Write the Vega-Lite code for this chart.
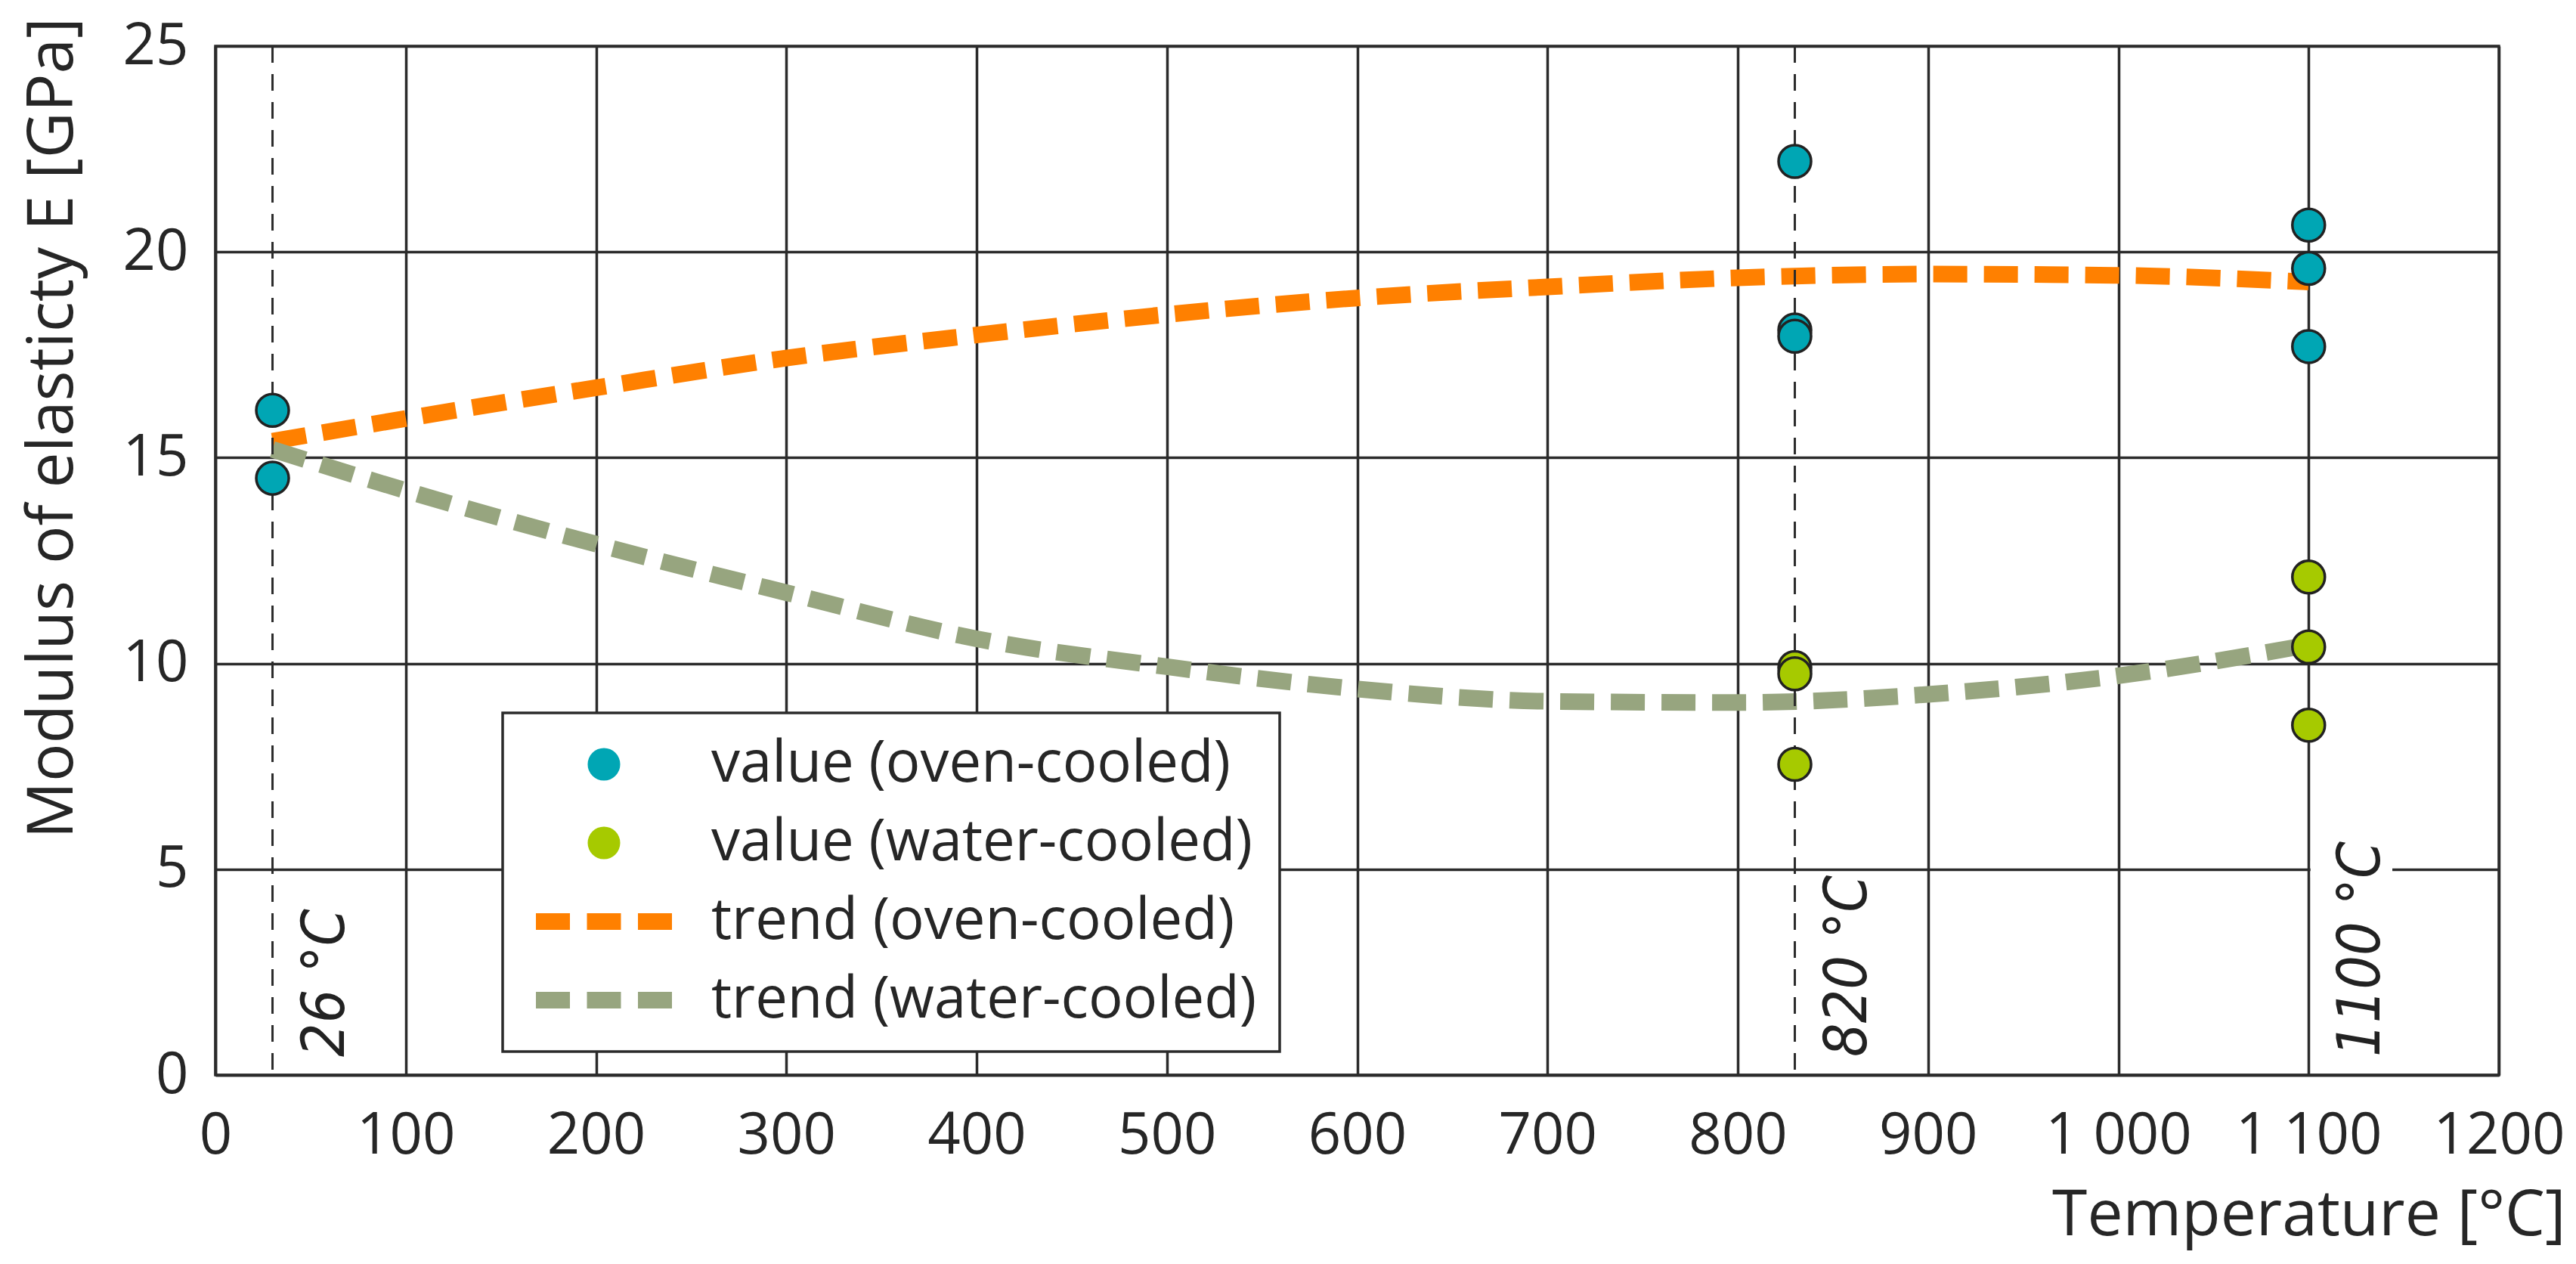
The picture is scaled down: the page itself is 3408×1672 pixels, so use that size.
{
  "$schema": "https://vega.github.io/schema/vega-lite/v6.json",
  "width": 3021,
  "height": 1361,
  "autosize": {"type": "none"},
  "padding": {"left": 285, "top": 61, "right": 102, "bottom": 250},
  "background": "#ffffff",
  "datasets": {
    "points": [
      {"T": 30, "E": 16.15, "series": "value (oven-cooled)"},
      {"T": 30, "E": 14.5, "series": "value (oven-cooled)"},
      {"T": 830, "E": 22.2, "series": "value (oven-cooled)"},
      {"T": 830, "E": 18.1, "series": "value (oven-cooled)"},
      {"T": 830, "E": 17.95, "series": "value (oven-cooled)"},
      {"T": 1100, "E": 20.65, "series": "value (oven-cooled)"},
      {"T": 1100, "E": 19.6, "series": "value (oven-cooled)"},
      {"T": 1100, "E": 17.7, "series": "value (oven-cooled)"},
      {"T": 830, "E": 9.9, "series": "value (water-cooled)"},
      {"T": 830, "E": 9.75, "series": "value (water-cooled)"},
      {"T": 830, "E": 7.55, "series": "value (water-cooled)"},
      {"T": 1100, "E": 12.1, "series": "value (water-cooled)"},
      {"T": 1100, "E": 10.4, "series": "value (water-cooled)"},
      {"T": 1100, "E": 8.5, "series": "value (water-cooled)"}
    ],
    "trend": [
      {"T": 30, "E": 15.4, "series": "trend (oven-cooled)"},
      {"T": 100, "E": 15.95, "series": "trend (oven-cooled)"},
      {"T": 200, "E": 16.7, "series": "trend (oven-cooled)"},
      {"T": 300, "E": 17.42, "series": "trend (oven-cooled)"},
      {"T": 400, "E": 17.98, "series": "trend (oven-cooled)"},
      {"T": 500, "E": 18.48, "series": "trend (oven-cooled)"},
      {"T": 600, "E": 18.88, "series": "trend (oven-cooled)"},
      {"T": 700, "E": 19.15, "series": "trend (oven-cooled)"},
      {"T": 800, "E": 19.37, "series": "trend (oven-cooled)"},
      {"T": 900, "E": 19.46, "series": "trend (oven-cooled)"},
      {"T": 1000, "E": 19.43, "series": "trend (oven-cooled)"},
      {"T": 1100, "E": 19.27, "series": "trend (oven-cooled)"},
      {"T": 30, "E": 15.2, "series": "trend (water-cooled)"},
      {"T": 100, "E": 14.2, "series": "trend (water-cooled)"},
      {"T": 200, "E": 12.9, "series": "trend (water-cooled)"},
      {"T": 300, "E": 11.72, "series": "trend (water-cooled)"},
      {"T": 400, "E": 10.6, "series": "trend (water-cooled)"},
      {"T": 500, "E": 9.92, "series": "trend (water-cooled)"},
      {"T": 600, "E": 9.38, "series": "trend (water-cooled)"},
      {"T": 700, "E": 9.08, "series": "trend (water-cooled)"},
      {"T": 800, "E": 9.05, "series": "trend (water-cooled)"},
      {"T": 900, "E": 9.25, "series": "trend (water-cooled)"},
      {"T": 1000, "E": 9.7, "series": "trend (water-cooled)"},
      {"T": 1100, "E": 10.45, "series": "trend (water-cooled)"}
    ],
    "markers": [
      {"T": 30, "label": "26 °C", "dashed": true},
      {"T": 830, "label": "820 °C", "dashed": true},
      {"T": 1100, "label": "1100 °C", "dashed": false}
    ]
  },
  "resolve": {"scale": {"stroke": "independent"}, "legend": {"stroke": "independent"}},
  "layer": [
    {
      "data": {"name": "trend"},
      "mark": {"type": "line", "strokeWidth": 22, "strokeDash": [45, 22], "interpolate": "monotone"},
      "encoding": {
        "x": {
          "field": "T",
          "type": "quantitative",
          "scale": {"domain": [0, 1200], "nice": false},
          "axis": {
            "title": "Temperature [°C]",
            "values": [0, 100, 200, 300, 400, 500, 600, 700, 800, 900, 1000, 1100, 1200],
            "format": "d",
            "labelExpr": "datum.value == 1000 ? '1 000' : datum.value == 1100 ? '1 100' : datum.label",
            "labelFlush": false,
            "labelOverlap": false,
            "labelLimit": 1000,
            "labelPadding": 103,
            "labelBaseline": "alphabetic",
            "titleX": 3109,
            "titleY": 211,
            "titleAlign": "right",
            "titleBaseline": "alphabetic"
          }
        },
        "y": {
          "field": "E",
          "type": "quantitative",
          "scale": {"domain": [0, 25], "nice": false},
          "axis": {
            "title": "Modulus of elasticty E [GPa]",
            "values": [0, 5, 10, 15, 20, 25],
            "format": "d",
            "labelPadding": 36,
            "titleX": -190,
            "titleY": 505,
            "titleAlign": "center",
            "titleBaseline": "alphabetic"
          }
        },
        "stroke": {
          "field": "series",
          "type": "nominal",
          "scale": {
            "domain": ["trend (oven-cooled)", "trend (water-cooled)"],
            "range": ["#ff8000", "#97a57f"]
          },
          "legend": null
        }
      }
    },
    {
      "data": {"name": "markers"},
      "transform": [{"filter": "datum.dashed"}],
      "mark": {"type": "rule", "color": "#2b2b2b", "strokeWidth": 3, "strokeDash": [22, 15]},
      "encoding": {
        "x": {"field": "T", "type": "quantitative"}
      }
    },
    {
      "data": {"values": [{}]},
      "mark": {"type": "rect", "fill": "#ffffff"},
      "encoding": {
        "x": {"datum": 1101, "type": "quantitative"},
        "x2": {"datum": 1144},
        "y": {"datum": 4.8, "type": "quantitative"},
        "y2": {"datum": 5.2}
      }
    },
    {
      "data": {"name": "markers"},
      "mark": {
        "type": "text",
        "angle": 270,
        "align": "left",
        "baseline": "alphabetic",
        "dx": 24,
        "dy": 94,
        "font": "DejaVu Sans Condensed, DejaVu Sans",
        "fontSize": 78,
        "fontStyle": "italic",
        "color": "#222222"
      },
      "encoding": {
        "x": {"field": "T", "type": "quantitative"},
        "y": {"datum": 0, "type": "quantitative"},
        "text": {"field": "label"}
      }
    },
    {
      "data": {"name": "points"},
      "mark": {"type": "point", "filled": true, "size": 1850, "strokeWidth": 3.5, "opacity": 1},
      "encoding": {
        "x": {"field": "T", "type": "quantitative"},
        "y": {"field": "E", "type": "quantitative"},
        "color": {
          "field": "series",
          "type": "nominal",
          "scale": {
            "domain": ["value (oven-cooled)", "value (water-cooled)", "trend (oven-cooled)", "trend (water-cooled)"],
            "range": ["#00a6b4", "#a6ca00", "#ff8000", "#97a57f"]
          },
          "legend": {
            "title": null,
            "orient": "none",
            "legendX": 380,
            "legendY": 882,
            "padding": 30,
            "rowPadding": 28,
            "symbolSize": 1850,
            "symbolStrokeWidth": 3.5,
            "symbolOffset": 66,
            "labelOffset": 104,
            "labelFont": "Open Sans",
            "labelFontSize": 76,
            "labelColor": "#262626",
            "labelLimit": 2000,
            "fillColor": "#ffffff",
            "strokeColor": "#2b2b2b"
          }
        },
        "shape": {
          "field": "series",
          "type": "nominal",
          "scale": {
            "domain": ["value (oven-cooled)", "value (water-cooled)", "trend (oven-cooled)", "trend (water-cooled)"],
            "range": [
              "circle",
              "circle",
              "M-4.185,-0.51H-2.092V0.51H-4.185Z M-1.046,-0.51H1.046V0.51H-1.046Z M2.092,-0.51H4.185V0.51H2.092Z",
              "M-4.185,-0.51H-2.092V0.51H-4.185Z M-1.046,-0.51H1.046V0.51H-1.046Z M2.092,-0.51H4.185V0.51H2.092Z"
            ]
          }
        },
        "stroke": {
          "field": "series",
          "type": "nominal",
          "scale": {
            "domain": ["value (oven-cooled)", "value (water-cooled)", "trend (oven-cooled)", "trend (water-cooled)"],
            "range": ["#222222", "#222222", "transparent", "transparent"]
          },
          "legend": null
        }
      }
    }
  ],
  "config": {
    "font": "Open Sans",
    "view": {"stroke": "#2b2b2b", "strokeWidth": 3.5},
    "legend": {"strokeWidth": 3.5},
    "axis": {
      "domainColor": "#2b2b2b",
      "domainWidth": 3.5,
      "grid": true,
      "gridColor": "#2b2b2b",
      "gridWidth": 3.5,
      "gridOpacity": 1,
      "ticks": false,
      "tickSize": 0,
      "labelFont": "Open Sans",
      "labelFontSize": 76,
      "labelColor": "#262626",
      "titleFont": "Open Sans",
      "titleFontSize": 84,
      "titleFontWeight": "normal",
      "titleColor": "#262626"
    }
  }
}
